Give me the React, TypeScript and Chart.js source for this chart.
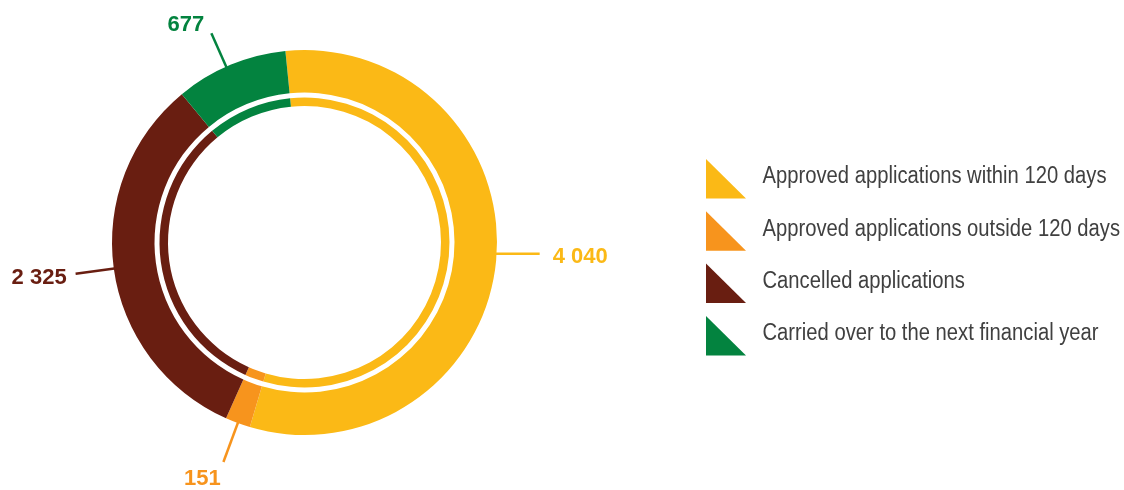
import React, { useEffect, useRef } from 'react';
import { Chart, registerables } from 'chart.js';

Chart.register(...registerables);

const categories = [
  'Approved applications within 120 days',
  'Approved applications outside 120 days',
  'Cancelled applications',
  'Carried over to the next financial year',
];
const values = [4040, 151, 2325, 677];
const colors = ['#FBB916', '#F7941D', '#691E11', '#03833F'];

const W = 1124;
const H = 490;

type Leader = {
  frac: number;
  mode: 'h' | 'r';
  r0: number;
  r1: number;
  len: number;
  dx: number;
  dy: number;
  align: CanvasTextAlign;
};

// leader-line styling for each category's value label
const leaders: Leader[] = [
  { frac: 0.49, mode: 'h', r0: 190, r1: 0, len: 43, dx: 13, dy: 9, align: 'left' },
  { frac: 0.5, mode: 'r', r0: 190, r1: 234, len: 0, dx: -21, dy: 22.5, align: 'center' },
  { frac: 0.5, mode: 'r', r0: 190, r1: 231, len: 0, dx: -9, dy: 10.5, align: 'right' },
  { frac: 0.46, mode: 'r', r0: 190, r1: 229, len: 0, dx: -25.5, dy: -2.5, align: 'center' },
];

const fmt = (v: number) => String(v).replace(/\B(?=(\d{3})+(?!\d))/g, ' ');

const labelPlugin = {
  id: 'leaderLabels',
  afterDraw(chart: any) {
    const ctx: CanvasRenderingContext2D = chart.ctx;
    const meta = chart.getDatasetMeta(0);
    ctx.save();
    meta.data.forEach((arc: any, i: number) => {
      const L = leaders[i];
      const a = arc.startAngle + L.frac * (arc.endAngle - arc.startAngle);
      const sx = arc.x + Math.cos(a) * L.r0;
      const sy = arc.y + Math.sin(a) * L.r0;
      let ex: number, ey: number;
      if (L.mode === 'h') {
        const px = arc.x + Math.cos(a) * arc.outerRadius;
        ex = px + L.len;
        ey = sy;
      } else {
        ex = arc.x + Math.cos(a) * L.r1;
        ey = arc.y + Math.sin(a) * L.r1;
      }
      ctx.strokeStyle = colors[i];
      ctx.lineWidth = 2.5;
      ctx.beginPath();
      ctx.moveTo(sx, sy);
      ctx.lineTo(ex, ey);
      ctx.stroke();
      ctx.fillStyle = colors[i];
      ctx.font = 'bold 22px "Liberation Sans", Arial, sans-serif';
      ctx.textAlign = L.align;
      ctx.textBaseline = 'alphabetic';
      ctx.fillText(fmt(values[i]), ex + L.dx, ey + L.dy);
    });

    // legend
    const lx = 706;
    const top0 = 159;
    const step = 52.3;
    const tri = 39.5;
    ctx.font = '23px "Liberation Sans", Arial, sans-serif';
    const k = 344 / ctx.measureText(categories[0]).width;
    categories.forEach((c, i) => {
      const t = top0 + i * step;
      ctx.fillStyle = colors[i];
      ctx.beginPath();
      ctx.moveTo(lx, t);
      ctx.lineTo(lx, t + tri);
      ctx.lineTo(lx + 40, t + tri);
      ctx.closePath();
      ctx.fill();
      ctx.save();
      ctx.translate(762.5, t + 24.3);
      ctx.scale(k, 1);
      ctx.fillStyle = '#404040';
      ctx.textAlign = 'left';
      ctx.textBaseline = 'alphabetic';
      ctx.fillText(c, 0, 0);
      ctx.restore();
    });
    ctx.restore();
  },
};

export default function App() {
  const ref = useRef<HTMLCanvasElement | null>(null);
  useEffect(() => {
    document.body.style.margin = '0';
    if (!ref.current) return;
    const arcStyle = { borderWidth: 0, hoverBorderWidth: 0, hoverOffset: 0 };
    const chart = new Chart(ref.current, {
      type: 'doughnut',
      data: {
        labels: categories,
        datasets: [
          { data: values, backgroundColor: colors, weight: 42.5, ...arcStyle },
          { data: values, backgroundColor: 'rgba(0,0,0,0)', weight: 5, ...arcStyle },
          { data: values, backgroundColor: colors, weight: 8.5, ...arcStyle },
        ],
      },
      options: {
        responsive: false,
        animation: false,
        rotation: -5.7,
        cutout: 136.5,
        layout: { padding: { left: 112, right: 627, top: 50, bottom: 55 } },
        plugins: { legend: { display: false }, tooltip: { enabled: false } },
        events: [],
      } as any,
      plugins: [labelPlugin],
    });
    return () => chart.destroy();
  }, []);
  return <canvas ref={ref} width={W} height={H} style={{ display: 'block', width: W, height: H }} />;
}
